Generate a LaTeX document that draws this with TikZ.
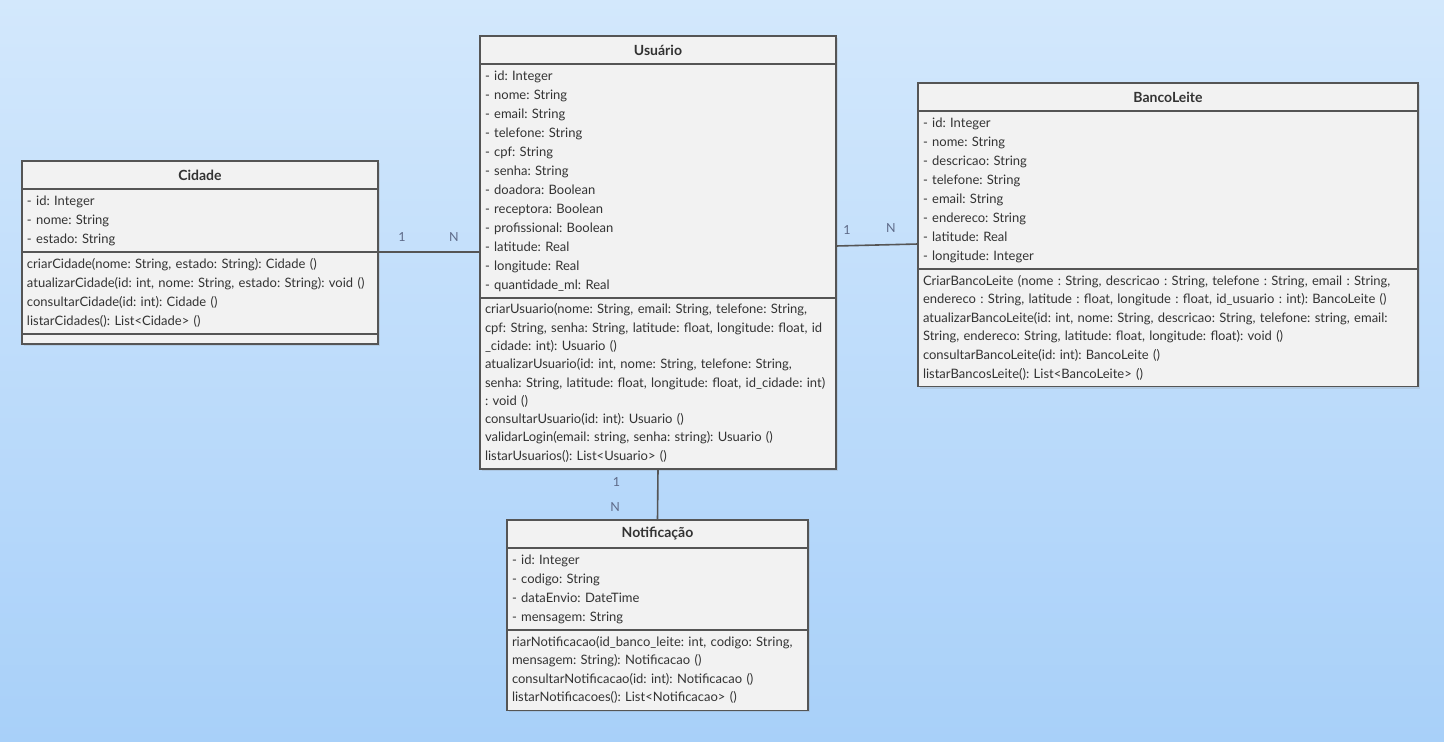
\documentclass[tikz,border=0pt]{standalone}
\usepackage{fontspec}
\setmainfont{Lato}
\frenchspacing
\usetikzlibrary{positioning,shadows}

\definecolor{bgtop}{HTML}{D3E8FC}
\definecolor{bgbottom}{HTML}{A8D0F9}
\definecolor{boxfill}{HTML}{F2F2F2}
\definecolor{boxline}{HTML}{555555}
\definecolor{txt}{HTML}{333333}
\definecolor{multcol}{HTML}{5E6A88}

\tikzset{
  part/.style = {draw=boxline, line width=1.6pt, fill=boxfill, text=txt,
    inner xsep=5pt, inner ysep=3pt, outer sep=0pt, align=left,
    drop shadow={opacity=0.18, shadow xshift=2pt, shadow yshift=-2pt}},
  head/.style = {part, align=center, minimum height=28pt,
    font=\fontsize{14}{19}\selectfont\bfseries},
  attrs/.style = {part, font=\fontsize{13}{19}\selectfont,
    execute at begin node=\strut, execute at end node=\strut},
  ops/.style = {attrs, font=\fontsize{13}{18.6}\selectfont},
  assoc/.style = {draw=boxline, line width=1.6pt},
  mult/.style = {text=multcol, font=\fontsize{12.5}{14}\selectfont, inner sep=1pt}
}

\begin{document}
\begin{tikzpicture}[x=1pt, y=-1pt]

  \shade[top color=bgtop, bottom color=bgbottom] (0,0) rectangle (1444,742);
  \useasboundingbox (0,0) rectangle (1444,742);

  % Cidade
  \node[head, text width=346pt] (cidade) at (200,175) {Cidade};
  \node[attrs, text width=346pt, below=0pt of cidade] (cidade-attr)
    {- id: Integer\\- nome: String\\- estado: String};
  \node[ops, text width=346pt, font=\fontsize{13}{19}\selectfont,
    below=0pt of cidade-attr] (cidade-ops)
    {criarCidade(nome: String, estado: String): Cidade ()\\
     atualizarCidade(id: int, nome: String, estado: String): void ()\\
     consultarCidade(id: int): Cidade ()\\
     listarCidades(): List<Cidade> ()};
  \node[part, text width=346pt, inner ysep=0pt, minimum height=10pt,
    below=0pt of cidade-ops] (cidade-end) {};

  % Usuario
  \node[head, text width=346pt] (usuario) at (658,50) {Usuário};
  \node[attrs, text width=346pt, below=0pt of usuario] (usuario-attr)
    {- id: Integer\\- nome: String\\- email: String\\- telefone: String\\
     - cpf: String\\- senha: String\\- doadora: Boolean\\- receptora: Boolean\\
     - profissional: Boolean\\- latitude: Real\\- longitude: Real\\
     - quantidade\_ml: Real};
  \node[ops, text width=346pt, font=\fontsize{13}{18.3}\selectfont,
    below=0pt of usuario-attr] (usuario-ops)
    {criarUsuario(nome: String, email: String, telefone: String,\\
     cpf: String, senha: String, latitude: float, longitude: float, id\\
     \_cidade: int): Usuario ()\\
     atualizarUsuario(id: int, nome: String, telefone: String,\\
     senha: String, latitude: float, longitude: float, id\_cidade: int)\\
     : void ()\\
     consultarUsuario(id: int): Usuario ()\\
     validarLogin(email: string, senha: string): Usuario ()\\
     listarUsuarios(): List<Usuario> ()};

  % BancoLeite
  \node[head, text width=490pt] (banco) at (1168,97) {BancoLeite};
  \node[attrs, text width=490pt, below=0pt of banco] (banco-attr)
    {- id: Integer\\- nome: String\\- descricao: String\\- telefone: String\\
     - email: String\\- endereco: String\\- latitude: Real\\- longitude: Integer};
  \node[ops, text width=490pt, below=0pt of banco-attr] (banco-ops)
    {CriarBancoLeite (nome : String, descricao : String, telefone : String, email : String,\\
     endereco : String, latitude : float, longitude : float, id\_usuario : int): BancoLeite ()\\
     atualizarBancoLeite(id: int, nome: String, descricao: String, telefone: string, email:\\
     String, endereco: String, latitude: float, longitude: float): void ()\\
     consultarBancoLeite(id: int): BancoLeite ()\\
     listarBancosLeite(): List<BancoLeite> ()};

  % Notificacao
  \node[head, text width=291pt] (notif) at (657.5,534) {Notificação};
  \node[attrs, text width=291pt, below=0pt of notif] (notif-attr)
    {- id: Integer\\- codigo: String\\- dataEnvio: DateTime\\- mensagem: String};
  \node[ops, text width=291pt, below=0pt of notif-attr] (notif-ops)
    {riarNotificacao(id\_banco\_leite: int, codigo: String,\\
     mensagem: String): Notificacao ()\\
     consultarNotificacao(id: int): Notificacao ()\\
     listarNotificacoes(): List<Notificacao> ()};

  % associations
  \draw[assoc] (cidade-attr.south east) -- (cidade-attr.south east -| usuario-attr.west)
    node[mult, pos=0.235, above=9pt] {1} node[mult, pos=0.745, above=9pt] {N};
  \draw[assoc] ([yshift=-65pt]usuario-attr.east) -- ([yshift=-54pt]banco-attr.west)
    node[mult, pos=0.134, above=9pt] {1} node[mult, pos=0.67, above=10pt] {N};
  \draw[assoc] (usuario-ops.south) -- (notif.north)
    node[mult, pos=0.25, left=36pt] {1} node[mult, pos=0.75, left=36pt] {N};

\end{tikzpicture}
\end{document}
